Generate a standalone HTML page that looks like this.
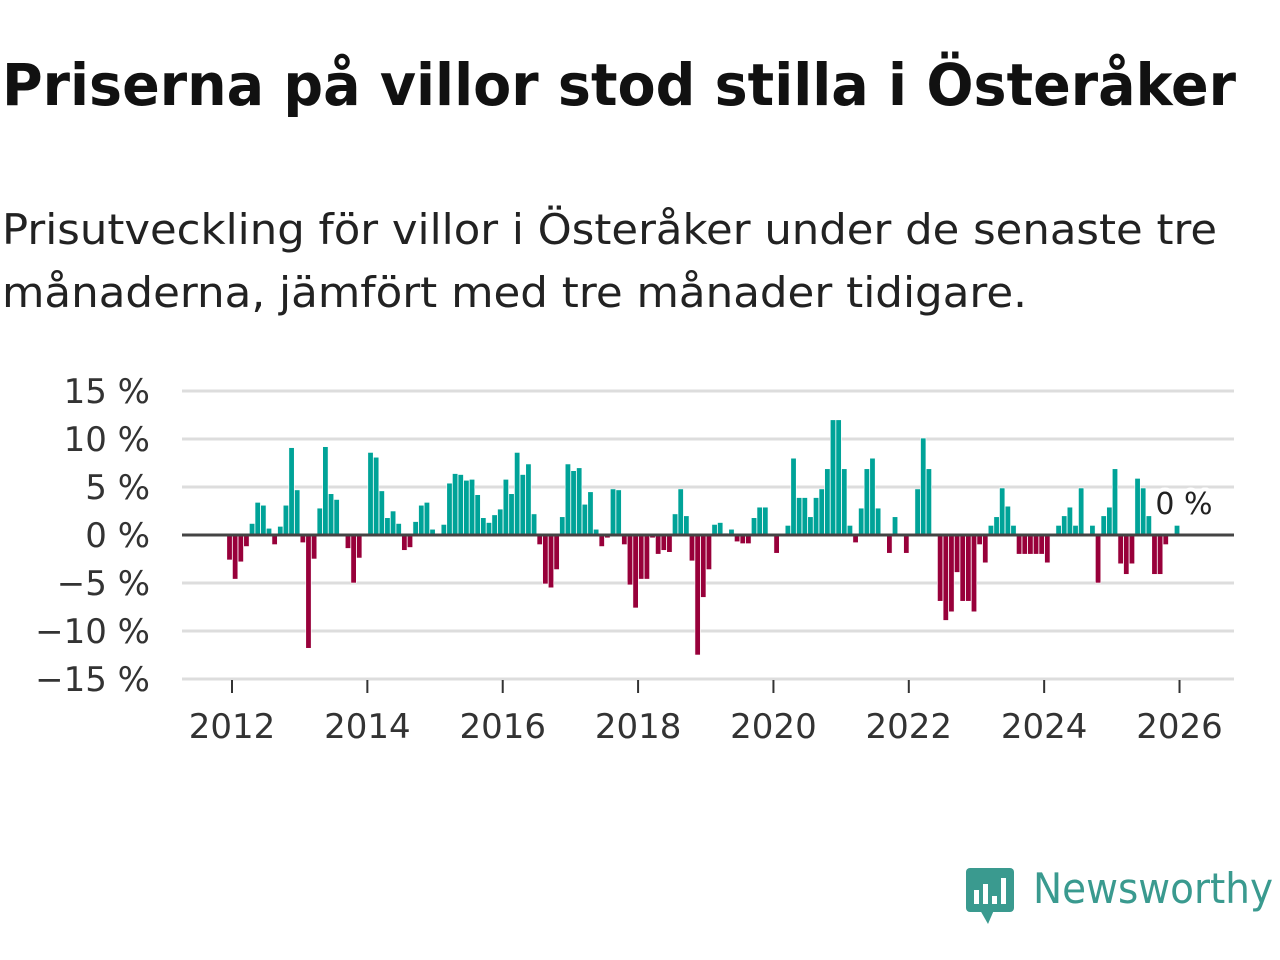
<!DOCTYPE html>
<html><head><meta charset="utf-8"><style>
html,body{margin:0;padding:0;background:#fff;}
svg{display:block;font-family:"DejaVu Sans","Liberation Sans",sans-serif;}
</style></head><body>
<svg id="chart" width="1280" height="960" viewBox="0 0 1280 960" xmlns="http://www.w3.org/2000/svg">
<text x="2" y="105" font-size="58" font-weight="bold" fill="#111" textLength="1234" lengthAdjust="spacingAndGlyphs">Priserna på villor stod stilla i Österåker</text>
<text x="2" y="244" font-size="42" fill="#222" textLength="1215" lengthAdjust="spacingAndGlyphs">Prisutveckling för villor i Österåker under de senaste tre</text>
<text x="2" y="307" font-size="42" fill="#222" textLength="1025" lengthAdjust="spacingAndGlyphs">månaderna, jämfört med tre månader tidigare.</text>
<g id="grid"></g>
<g id="ylabels"></g>
<g id="bars"></g>
<g id="xaxis"></g>
<text x="1184" y="514" font-size="30" fill="#222" text-anchor="middle" stroke="#fff" stroke-width="8" paint-order="stroke" stroke-linejoin="round">0 %</text>
<g>
<rect x="966" y="868" width="48" height="44" rx="4" fill="#3a9a8f"/>
<polygon points="980,910 994,910 988,924" fill="#3a9a8f"/>
<rect x="974" y="890" width="5" height="14" fill="#fff"/>
<rect x="983" y="884" width="5" height="20" fill="#fff"/>
<rect x="992" y="896" width="5" height="8" fill="#fff"/>
<rect x="1001" y="878" width="5" height="26" fill="#fff"/>
<text x="1033" y="903" font-size="42" fill="#3a9a8f" textLength="240" lengthAdjust="spacingAndGlyphs">Newsworthy</text>
</g>
</svg>
<script>
const startYear = 2012;
const startMonth = 0;
const values = [-2.6,-4.6,-2.8,-1.2,1.2,3.4,3.1,0.7,-1.0,0.9,3.1,9.1,4.7,-0.8,-11.8,-2.5,2.8,9.2,4.3,3.7,0,-1.4,-5.0,-2.4,0,8.6,8.1,4.6,1.8,2.5,1.2,-1.6,-1.3,1.4,3.1,3.4,0.6,0,1.1,5.4,6.4,6.3,5.7,5.8,4.2,1.8,1.3,2.1,
2.7,5.8,4.3,8.6,6.3,7.4,2.2,-1.0,-5.1,-5.5,-3.6,1.9,7.4,6.7,7.0,3.2,4.5,0.6,-1.2,-0.3,4.8,4.7,-1.0,-5.2,-7.6,-4.6,-4.6,-0.3,-2.0,-1.6,-1.8,2.2,4.8,2.0,-2.7,-12.5,-6.5,-3.6,1.1,1.3,0.2,0.6,-0.7,-0.9,-0.9,1.8,2.9,2.9,
0,-1.9,0,1.0,8.0,3.9,3.9,1.9,3.9,4.8,6.9,12,12,6.9,1.0,-0.8,2.8,6.9,8.0,2.8,0,-1.9,1.9,0,-1.9,0,4.8,10.1,6.9,0,-6.9,-8.9,-8.0,-3.9,-6.9,-6.9,-8.0,-1.0,-2.9,1.0,1.9,4.9,3.0,
1.0,-2,-2,-2,-2,-2,-2.9,0,1.0,2.0,2.9,1.0,4.9,0,1.0,-5.0,2.0,2.9,6.9,-3.0,-4.1,-3.0,5.9,4.9,2.0,-4.1,-4.1,-1.0,0,1.0];
const yTicks = [15,10,5,0,-5,-10,-15];
const yTickLabels = ["15 %","10 %","5 %","0 %","\u221215 %".replace("15","5"),"\u221210 %","\u221215 %"];
const xTicks = [2012,2014,2016,2018,2020,2022,2024,2026];

const NS = "http://www.w3.org/2000/svg";
const x0 = 182, x1 = 1234;
function xScale(t){ return 232 + (t - 2012) * 67.68; }
function yScale(v){ return 535 - v * 9.6; }
function mk(tag, attrs, parent){ const e=document.createElementNS(NS,tag); for(const k in attrs) e.setAttribute(k,attrs[k]); parent.appendChild(e); return e; }

const grid=document.getElementById('grid'), yl=document.getElementById('ylabels');
yTicks.forEach((v,i)=>{
  if(v!==0){
    const l=mk('line',{x1:x0,x2:x1,y1:yScale(v),y2:yScale(v),stroke:'#ddd','stroke-width':3},grid);
    
    
  }
  const t=mk('text',{x:150,y:yScale(v)+12,'font-size':34,fill:'#333','text-anchor':'end'},yl);
  t.textContent=yTickLabels[i];
  
  
});

const bars=document.getElementById('bars');
values.forEach((v,i)=>{
  const t = startYear + (startMonth + i - 0.44)/12;
  const cx = xScale(t);
  const y = Math.min(yScale(v), yScale(0)), h = Math.abs(yScale(v)-yScale(0));
  if(h<=0) return;
  const r=mk('rect',{x:cx-2.7,y:y,width:5.4,height:h,fill:v>=0?'#00a398':'#98003a',stroke:'#fff','stroke-width':0.6},bars);
  
  
});

const xa=document.getElementById('xaxis');
const zl=mk('line',{x1:x0,x2:x1,y1:yScale(0),y2:yScale(0),stroke:'#444','stroke-width':3},xa);


xTicks.forEach(yr=>{
  const x=xScale(yr);
  const tk=mk('line',{x1:x,x2:x,y1:680,y2:693,stroke:'#333','stroke-width':2},xa);
  
  
  const tx=mk('text',{x:x,y:738,'font-size':34,fill:'#333','text-anchor':'middle'},xa);
  tx.textContent=String(yr);
  
  
});
</script>
</body></html>
